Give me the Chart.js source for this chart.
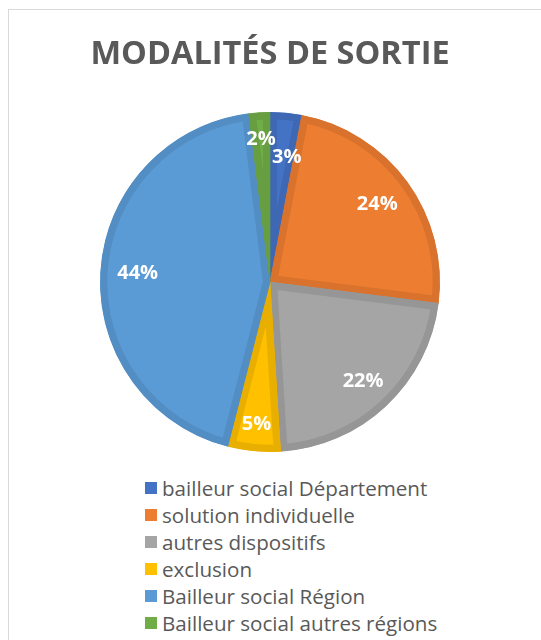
<!DOCTYPE html>
<html>
<head>
<meta charset="utf-8">
<script src="https://cdn.jsdelivr.net/npm/chart.js@4"></script>
<style>
  body { margin: 0; background: #fff; width: 541px; height: 640px; overflow: hidden; position: relative; }
  #frame { position: absolute; left: 8px; top: 9px; width: 600px; height: 700px;
           border-left: 1.5px solid #d9d9d9; border-top: 1.5px solid #d9d9d9; }
  #pie { position: absolute; left: 0; top: 0; }
  #legend { position: absolute; left: 145px; top: 475px; margin: 0; padding: 0; list-style: none;
            font-family: "Open Sans", sans-serif; font-size: 20.6px; color: #595959; }
  #legend li { height: 26.9px; display: flex; align-items: center; white-space: nowrap; }
  #legend span.box { width: 12px; height: 12px; margin-right: 5px; display: inline-block; }
</style>
</head>
<body>
<div id="frame"></div>
<canvas id="pie" width="540" height="470"></canvas>
<ul id="legend"></ul>
<script>
// Chart data
const labels = [
    'bailleur social Département',
    'solution individuelle',
    'autres dispositifs',
    'exclusion',
    'Bailleur social Région',
    'Bailleur social autres régions'
];
const shares = [3, 24, 22, 5, 44, 2];

// Office-like palette: fill + slightly darker inner edge
const fillColors = ['#4472C4', '#ED7D31', '#A5A5A5', '#FFC000', '#5B9BD5', '#70AD47'];
const edgeColors = ['#3E68B3', '#D8722C', '#969696', '#E8AF00', '#528DC3', '#669E41'];

// Percent labels drawn inside the slices
const pieLabels = {
    id: 'pieLabels',
    afterDatasetsDraw(chart) {
        const ctx = chart.ctx;
        const meta = chart.getDatasetMeta(0);
        const values = chart.data.datasets[0].data;
        const total = values.reduce((a, b) => a + b, 0);
        const radial = [0.74, 0.78, 0.8, 0.84, 0.78, 0.84];
        ctx.save();
        ctx.font = 'bold 20px "Open Sans"';
        ctx.fillStyle = '#ffffff';
        ctx.textAlign = 'center';
        ctx.textBaseline = 'middle';
        meta.data.forEach((arc, i) => {
            const p = arc.getProps(['x', 'y', 'startAngle', 'endAngle', 'outerRadius'], true);
            let mid = (p.startAngle + p.endAngle) / 2;
            if (i === 0) mid += 0.04;
            const r = p.outerRadius * radial[i];
            const text = Math.round(values[i] / total * 100) + '%';
            ctx.fillText(text, p.x + Math.cos(mid) * r, p.y + Math.sin(mid) * r);
        });
        ctx.restore();
    }
};

const chart = new Chart(document.getElementById('pie'), {
    type: 'pie',
    data: {
        labels: labels,
        datasets: [{
            data: shares,
            backgroundColor: fillColors,
            borderColor: edgeColors,
            borderWidth: 7,
            borderAlign: 'inner',
            hoverOffset: 0,
            offset: 0
        }]
    },
    options: {
        responsive: false,
        animation: false,
        devicePixelRatio: 1,
        layout: { padding: { top: 35, bottom: 18 } },
        plugins: {
            legend: { display: false },
            tooltip: { enabled: false },
            title: {
                display: true,
                text: 'MODALITÉS DE SORTIE',
                color: '#595959',
                font: { family: 'Open Sans', size: 32.5, weight: 'bold' },
                padding: { top: 0, bottom: 38 }
            }
        }
    },
    plugins: [pieLabels]
});

// Vertical legend, left aligned as a block
const legendEl = document.getElementById('legend');
labels.forEach((name, i) => {
    const li = document.createElement('li');
    const box = document.createElement('span');
    box.className = 'box';
    box.style.background = fillColors[i];
    li.appendChild(box);
    li.appendChild(document.createTextNode(name));
    legendEl.appendChild(li);
});
</script>
</body>
</html>
